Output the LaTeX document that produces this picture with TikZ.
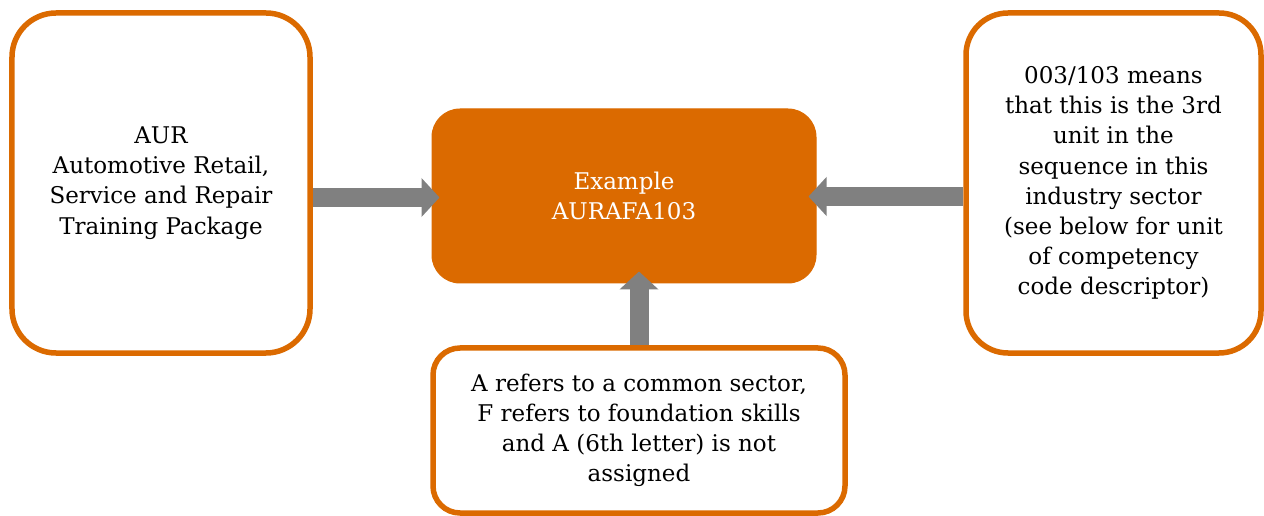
\documentclass[tikz,border=0pt]{standalone}
\usepackage{fontspec}
\setmainfont{DejaVu Serif}
\usetikzlibrary{arrows.meta,calc}
\definecolor{boxorange}{RGB}{219,106,0}
\definecolor{arrowgray}{RGB}{128,128,128}
\tikzset{
  txt/.style={font=\fontsize{23bp}{30.2bp}\selectfont, align=center, text=black},
  outlinebox/.style={txt, draw=boxorange, line width=5.5bp, fill=white, inner sep=0pt},
  mainbox/.style={txt, text=white, fill=boxorange, draw=boxorange, line width=1bp,
    rounded corners=28bp, minimum width=384bp, minimum height=174bp, inner sep=0pt},
  blockarrow/.style={draw=arrowgray, line width=19bp,
    -{Triangle[length=18bp, width=38bp]}, arrowgray}
}
\begin{document}
\begin{tikzpicture}[x=1bp, y=-1bp]
\useasboundingbox (0,0) rectangle (1264,516);
\node[outlinebox, rounded corners=44bp, minimum width=298bp, minimum height=340bp]
  (lbox) at (161,183) {AUR\\Automotive Retail,\\Service and Repair\\Training Package};
\node[mainbox] (cbox) at (624,196) {Example\\AURAFA103};
\node[outlinebox, rounded corners=42bp, minimum width=295bp, minimum height=340bp]
  (rbox) at (1113.5,183) {003/103 means\\that this is the 3rd\\unit in the\\sequence in this\\industry sector\\(see below for unit\\of competency\\code descriptor)};
\node[outlinebox, rounded corners=27bp, minimum width=412bp, minimum height=165bp]
  (bbox) at (639,430.5) {A refers to a common sector,\\F refers to foundation skills\\and A (6th letter) is not\\assigned};
\draw[blockarrow] ($(lbox.east |- cbox.west)+(0,1.5)$) -- ($(cbox.west)+(8,1.5)$);
\draw[blockarrow] ($(rbox.west |- cbox.east)+(0,0.5)$) -- ($(cbox.east)+(-8,0.5)$);
\draw[blockarrow] (bbox.north) -- ($(bbox.north |- cbox.south)+(0,-12)$);
\end{tikzpicture}
\end{document}
